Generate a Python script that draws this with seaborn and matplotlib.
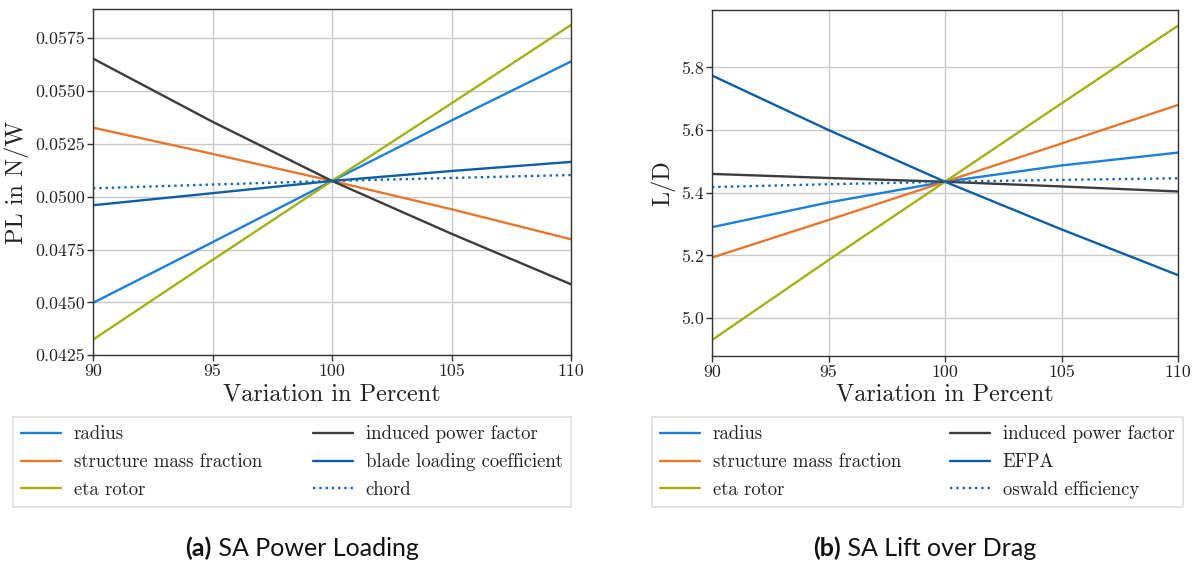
import numpy as np
import pandas as pd
import matplotlib
matplotlib.use("Agg")
import matplotlib.pyplot as plt
import seaborn as sns

# ---- data ----
variation = [90, 95, 100, 105, 110]

pl_labels = ["radius", "structure mass fraction", "eta rotor",
             "induced power factor", "blade loading coefficient", "chord"]
pl_radius = [0.04498, 0.04785, 0.05075, 0.05361, 0.05640]
pl_structure = [0.05327, 0.05203, 0.05075, 0.04941, 0.04799]
pl_eta = [0.04324, 0.04701, 0.05075, 0.05442, 0.05813]
pl_induced = [0.05654, 0.05355, 0.05075, 0.04825, 0.04586]
pl_blade = [0.04960, 0.05017, 0.05075, 0.05122, 0.05165]
pl_chord = [0.05040, 0.05058, 0.05075, 0.05089, 0.05103]

ld_labels = ["radius", "structure mass fraction", "eta rotor",
             "induced power factor", "EFPA", "oswald efficiency"]
ld_radius = [5.290, 5.369, 5.435, 5.487, 5.528]
ld_structure = [5.193, 5.313, 5.435, 5.557, 5.680]
ld_eta = [4.930, 5.185, 5.435, 5.685, 5.933]
ld_induced = [5.460, 5.447, 5.435, 5.420, 5.404]
ld_efpa = [5.774, 5.600, 5.435, 5.283, 5.137]
ld_oswald = [5.418, 5.427, 5.435, 5.441, 5.446]

colors = ["#1a80d9", "#e8762c", "#a2b214", "#3c3c3c", "#0d5ea6", "#1565b0"]
styles = ["-", "-", "-", "-", "-", ":"]

sns.set_theme(style="whitegrid")
plt.rcParams["font.family"] = ["cmr10", "DejaVu Serif"]
plt.rcParams["axes.formatter.use_mathtext"] = True
plt.rcParams["mathtext.fontset"] = "cm"

W, H = 1199, 563
fig = plt.figure(figsize=(W / 100, H / 100), dpi=100)


def px_axes(x0, x1, ytop, ybot):
    return fig.add_axes([x0 / W, 1 - ybot / H, (x1 - x0) / W, (ybot - ytop) / H])


ax1 = px_axes(93, 571, 9.3, 355.3)
ax2 = px_axes(712, 1178, 10, 356)


def draw(ax, labels, series, ylim, yticks, ylabel, fmt):
    for lab, vals, c, ls in zip(labels, series, colors, styles):
        df = pd.DataFrame({"x": variation, "y": vals})
        sns.lineplot(data=df, x="x", y="y", ax=ax, color=c, linestyle=ls,
                     linewidth=1.7, label=lab, legend=False)
    ax.set_xlim(90, 110)
    ax.set_ylim(*ylim)
    ax.set_xticks([90, 95, 100, 105, 110])
    ax.set_yticks(yticks)
    ax.set_yticklabels([fmt.format(t) for t in yticks])
    ax.set_xticklabels(["90", "95", "100", "105", "110"])
    ax.grid(True, color="#c8c8c8", linewidth=1.0)
    for s in ax.spines.values():
        s.set_color("#333333")
        s.set_linewidth(1.0)
    ax.tick_params(axis="both", which="both", direction="out", length=4,
                   width=1.0, color="#333333", labelsize=12.8, pad=2,
                   bottom=True, left=True, labelcolor="#222222")
    ax.set_xlabel("Variation in Percent", fontsize=17.5, color="#222222", labelpad=3)
    ax.set_ylabel(ylabel, fontsize=17.5, color="#222222", labelpad=4)
    ax.set_facecolor("white")


draw(ax1, pl_labels, [pl_radius, pl_structure, pl_eta, pl_induced, pl_blade, pl_chord],
     (0.0425, 0.05887), [0.0425, 0.045, 0.0475, 0.05, 0.0525, 0.055, 0.0575],
     "PL in N/W", "{:.4f}")
draw(ax2, ld_labels, [ld_radius, ld_structure, ld_eta, ld_induced, ld_efpa, ld_oswald],
     (4.879, 5.983), [5.0, 5.2, 5.4, 5.6, 5.8], "L/D", "{:.1f}")


def add_legend(ax, x0, x1):
    h, l = ax.get_legend_handles_labels()
    leg = fig.legend(h, l, loc="upper left",
                     bbox_to_anchor=(x0 / W, 1 - 510 / H, (x1 - x0) / W, 93 / H),
                     mode="expand",
                     ncol=2, fontsize=13.5, frameon=True, fancybox=False,
                     handlelength=2.1, handletextpad=0.7, borderaxespad=0,
                     labelspacing=0.52, borderpad=0.45, columnspacing=2.0)
    leg.get_frame().set_edgecolor("#d6d6d6")
    leg.get_frame().set_linewidth(1.2)
    for t in leg.get_texts():
        t.set_color("#222222")
    return leg


add_legend(ax1, 13, 571)
add_legend(ax2, 652, 1183)

cap_font = ["Lato", "DejaVu Sans"]
for cx, bold, rest in [(302, "(a)", " SA Power Loading"),
                       (925, "(b)", " SA Lift over Drag")]:
    t1 = fig.text(0, 0, bold, fontsize=18, fontweight="bold", family=cap_font,
                  color="#111111")
    t2 = fig.text(0, 0, rest, fontsize=18, family=cap_font, color="#111111")
    fig.canvas.draw()
    r = fig.canvas.get_renderer()
    w1 = t1.get_window_extent(r).width / fig.bbox.width
    w2 = t2.get_window_extent(r).width / fig.bbox.width
    x0 = cx / W - (w1 + w2) / 2
    y = 1 - 548 / H
    t1.set_position((x0, y))
    t1.set_va("center")
    t2.set_position((x0 + w1, y))
    t2.set_va("center")

fig.savefig("out.png", dpi=100)
